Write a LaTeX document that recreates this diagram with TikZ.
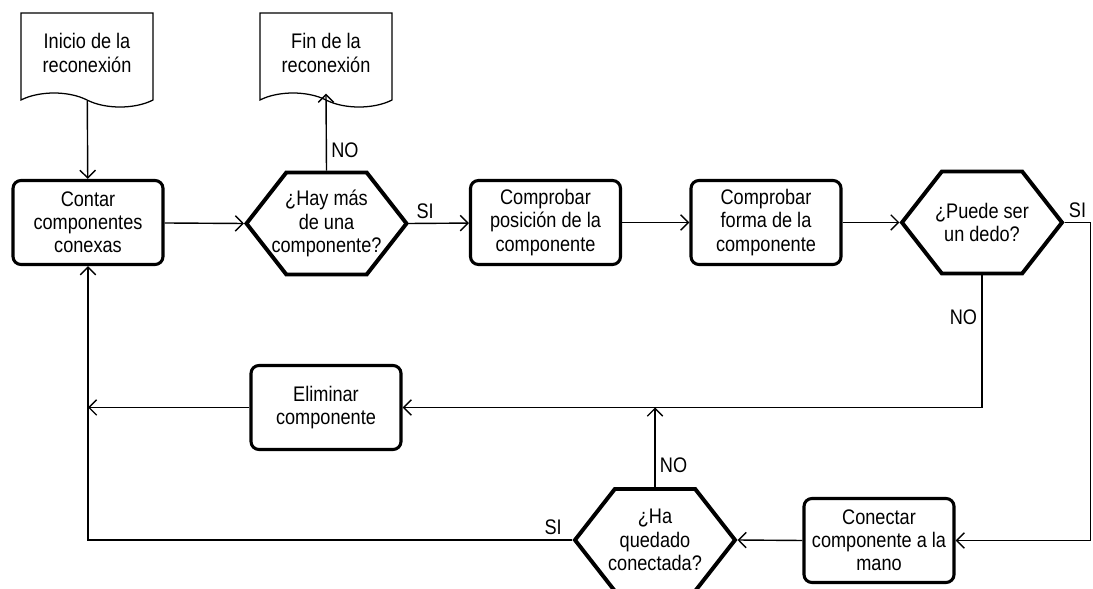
\documentclass[tikz,border=0pt]{standalone}
\usepackage{fontspec}
\setmainfont{Liberation Sans}[FakeStretch=0.86]
\usetikzlibrary{shapes.symbols,arrows.meta,positioning}

\tikzset{
  texto/.style={font=\fontsize{15}{16.5}\selectfont, align=center},
  caja/.style={texto, draw, rounded corners=0.2cm, line width=2.2pt, minimum width=3.75cm, minimum height=2.1cm, inner sep=1pt},
  decision/.style={texto, draw, signal, signal to=east and west, signal pointer angle=104, line width=2.8pt, minimum width=4cm, minimum height=2.55cm, inner xsep=-30pt, inner ysep=0pt},
  documento/.style={texto, draw, tape, tape bend top=none, tape bend bottom=out and in, tape bend height=0.35cm, line width=0.9pt, minimum width=3.3cm, minimum height=2.35cm},
  flecha/.style={-{Straight Barb[length=5.5pt,width=11pt]}, line width=1pt},
  etiq/.style={texto, inner sep=3pt}
}

\begin{document}
\begin{tikzpicture}[x=0.025cm, y=-0.025cm]
\useasboundingbox (0,0) rectangle (1093,589);

% fila de arriba
\node[documento] (ini) at (87,53) {Inicio de la\\reconexión};
\node[documento] (fin) at (326,53) {Fin de la\\reconexión};
\node[caja] (contar) at (88,222.5) {Contar\\componentes\\conexas};
\node[decision] (hay) at (326.5,223.5) {¿Hay más\\de una\\componente?};
\node[caja] (pos) at (545.5,222.5) {Comprobar\\posición de la\\componente};
\node[caja] (forma) at (766,222.5) {Comprobar\\forma de la\\componente};
\node[decision] (dedo) at (982,222.5) {¿Puede ser\\un dedo?};
%==========
\node[caja] (elim) at (326,407.5) {Eliminar\\componente};
\node[decision] (quedado) at (655,540) {¿Ha\\quedado\\conectada?};
\node[caja] (conectar) at (879,540.5) {Conectar\\componente a la\\mano};
%==========

\draw[flecha] (ini) -- (contar);
\draw[flecha] (contar) -- (hay.west);
\draw[flecha] (hay.north) -- node[etiq, right, pos=0.27] {NO} (fin.south);
\draw[flecha] (hay.east) -- node[etiq, above, pos=0.27] {SI} (pos);
\draw[flecha] (pos) -- (forma);
\draw[flecha] (forma) -- (dedo.west);
\draw[flecha] (dedo.east) -- node[etiq, above] {SI} ++(26,0) |- (conectar.east);
\draw[flecha] (dedo.south) |- node[etiq, left, pos=0.16] {NO} (elim.east);
\draw[flecha] (conectar.west) -- (quedado.east);
\draw[flecha] (quedado.north) -- node[etiq, right, pos=0.27] {NO} (quedado.north |- elim.east);
\draw[flecha] (quedado.west) -| node[etiq, above, pos=0.02] {SI} (contar.south);
\draw[flecha] (elim.west) -- (contar.south |- elim.west);

\end{tikzpicture}
\end{document}
